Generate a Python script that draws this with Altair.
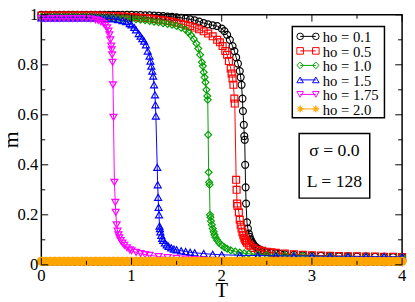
import altair as alt
import pandas as pd

# ---------------- data ----------------
H01 = [(0.0,1.0),(0.05,1.0),(0.1,1.0),(0.15,1.0),(0.2,1.0),(0.25,1.0),(0.3,1.0),(0.35,1.0),(0.4,1.0),(0.45,1.0),
       (0.5,1.0),(0.55,1.0),(0.6,1.0),(0.65,1.0),(0.7,1.0),(0.75,1.0),(0.8,1.0),(0.85,1.0),(0.9,1.0),(0.95,1.0),
       (1.0,1.0),(1.05,0.999),(1.1,0.999),(1.15,0.998),(1.2,0.998),(1.25,0.997),(1.3,0.996),(1.35,0.995),(1.4,0.993),
       (1.45,0.992),(1.5,0.99),(1.55,0.988),(1.6,0.985),(1.65,0.982),(1.7,0.978),(1.75,0.973),(1.8,0.967),(1.85,0.962),
       (1.9,0.958),(1.95,0.955),(2.0,0.945),(2.03,0.935),(2.06,0.92),(2.09,0.9),(2.12,0.875),(2.14,0.855),(2.16,0.83),
       (2.18,0.805),(2.2,0.775),(2.21,0.75),(2.22,0.72),(2.23,0.665),(2.235,0.615),(2.245,0.56),(2.25,0.515),(2.255,0.5),
       (2.26,0.4),(2.265,0.31),(2.27,0.245),(2.28,0.17),(2.29,0.145),(2.3,0.125),(2.31,0.112),(2.32,0.102),(2.33,0.094),
       (2.34,0.088),(2.35,0.082),(2.37,0.074),(2.39,0.068),(2.41,0.063),(2.44,0.058),(2.47,0.054),(2.5,0.051),(2.55,0.048),
       (2.6,0.046),(2.65,0.044),(2.7,0.042),(2.8,0.04),(2.9,0.038),(3.0,0.037),(3.1,0.036),(3.2,0.035),(3.3,0.034),
       (3.4,0.034),(3.5,0.033),(3.6,0.033),(3.7,0.032),(3.8,0.032),(3.9,0.031),(4.0,0.031)]

H05 = [(0.0,0.997),(0.05,0.997),(0.1,0.997),(0.15,0.997),(0.2,0.997),(0.25,0.997),(0.3,0.997),(0.35,0.997),(0.4,0.997),
       (0.45,0.997),(0.5,0.997),(0.55,0.997),(0.6,0.997),(0.65,0.996),(0.7,0.996),(0.75,0.995),(0.8,0.995),(0.85,0.994),
       (0.9,0.993),(0.95,0.992),(1.0,0.991),(1.05,0.99),(1.1,0.988),(1.15,0.987),(1.2,0.985),(1.25,0.983),(1.3,0.98),
       (1.35,0.978),(1.4,0.975),(1.45,0.972),(1.5,0.968),(1.55,0.964),(1.6,0.96),(1.65,0.955),(1.7,0.949),(1.75,0.942),
       (1.8,0.934),(1.85,0.925),(1.9,0.914),(1.95,0.9),(1.98,0.89),(2.01,0.875),(2.04,0.855),(2.06,0.84),(2.08,0.815),
       (2.1,0.785),(2.11,0.765),(2.12,0.745),(2.13,0.72),(2.14,0.665),(2.145,0.645),(2.16,0.34),(2.165,0.3),(2.17,0.245),
       (2.175,0.235),(2.19,0.21),(2.2,0.18),(2.21,0.16),(2.22,0.145),(2.23,0.13),(2.24,0.118),(2.25,0.108),(2.26,0.1),
       (2.27,0.094),(2.28,0.088),(2.3,0.08),(2.32,0.074),(2.35,0.067),(2.4,0.06),(2.45,0.056),(2.5,0.052),(2.55,0.05),
       (2.6,0.048),(2.7,0.045),(2.8,0.042),(2.9,0.04),(3.0,0.038),(3.1,0.037),(3.2,0.036),(3.3,0.035),(3.4,0.034),
       (3.5,0.034),(3.6,0.033),(3.7,0.033),(3.8,0.032),(3.9,0.032),(4.0,0.031)]

H10 = [(0.0,0.992),(0.05,0.992),(0.1,0.992),(0.15,0.992),(0.2,0.992),(0.25,0.992),(0.3,0.992),(0.35,0.992),(0.4,0.992),
       (0.45,0.992),(0.5,0.992),(0.55,0.991),(0.6,0.99),(0.65,0.99),(0.7,0.989),(0.75,0.988),(0.8,0.987),(0.85,0.986),
       (0.9,0.985),(0.95,0.985),(1.0,0.984),(1.05,0.982),(1.1,0.98),(1.15,0.978),(1.2,0.975),(1.25,0.972),(1.3,0.97),
       (1.35,0.966),(1.4,0.963),(1.45,0.96),(1.5,0.955),(1.55,0.948),(1.6,0.94),(1.63,0.93),(1.66,0.918),(1.69,0.903),
       (1.72,0.885),(1.74,0.865),(1.76,0.84),(1.78,0.81),(1.79,0.795),(1.8,0.77),(1.81,0.75),(1.82,0.73),(1.83,0.7),
       (1.84,0.675),(1.845,0.66),(1.85,0.52),(1.855,0.37),(1.86,0.33),(1.865,0.32),(1.87,0.2),(1.875,0.19),(1.88,0.175),
       (1.89,0.16),(1.9,0.145),(1.91,0.132),(1.92,0.12),(1.93,0.11),(1.95,0.098),(1.97,0.088),(2.0,0.078),(2.03,0.07),
       (2.06,0.064),(2.1,0.058),(2.15,0.053),(2.2,0.049),(2.25,0.046),(2.3,0.044),(2.4,0.041),(2.5,0.039),(2.6,0.038),
       (2.7,0.037),(2.8,0.036),(2.9,0.035),(3.0,0.035),(3.2,0.034),(3.4,0.033),(3.6,0.032),(3.8,0.031),(4.0,0.031)]

H15 = [(0.0,0.988),(0.05,0.988),(0.1,0.988),(0.15,0.988),(0.2,0.988),(0.25,0.988),(0.3,0.988),(0.35,0.988),(0.4,0.988),
       (0.45,0.988),(0.5,0.988),(0.55,0.988),(0.6,0.988),(0.65,0.987),(0.7,0.987),(0.75,0.986),(0.8,0.984),(0.85,0.981),
       (0.9,0.977),(0.94,0.973),(0.98,0.965),(1.0,0.96),(1.03,0.95),(1.05,0.94),(1.08,0.925),(1.1,0.915),(1.12,0.905),
       (1.14,0.895),(1.16,0.88),(1.18,0.855),(1.2,0.835),(1.21,0.815),(1.22,0.795),(1.23,0.775),(1.24,0.755),(1.25,0.72),
       (1.26,0.68),(1.265,0.64),(1.27,0.595),(1.285,0.39),(1.29,0.32),(1.295,0.27),(1.3,0.23),(1.305,0.2),(1.31,0.155),
       (1.315,0.145),(1.32,0.132),(1.33,0.118),(1.34,0.106),(1.35,0.098),(1.37,0.088),(1.39,0.08),(1.41,0.074),
       (1.44,0.068),(1.47,0.063),(1.5,0.06),(1.55,0.056),(1.6,0.053),(1.65,0.05),(1.7,0.048),(1.8,0.045),(1.9,0.042),
       (2.0,0.04),(2.2,0.038),(2.4,0.037),(2.6,0.036),(2.8,0.035),(3.0,0.035),(3.2,0.034),(3.4,0.034),(3.6,0.033),
       (3.8,0.033),(4.0,0.032)]

H175 = [(0.0,0.985),(0.05,0.985),(0.1,0.985),(0.15,0.985),(0.2,0.985),(0.25,0.985),(0.3,0.985),(0.35,0.985),(0.4,0.985),
        (0.45,0.985),(0.5,0.985),(0.55,0.983),(0.6,0.98),(0.63,0.977),(0.66,0.972),(0.69,0.965),(0.71,0.958),(0.73,0.948),
        (0.745,0.935),(0.755,0.92),(0.765,0.9),(0.775,0.875),(0.78,0.86),(0.785,0.84),(0.79,0.81),(0.795,0.72),(0.8,0.59),
        (0.81,0.33),(0.82,0.25),(0.825,0.21),(0.835,0.16),(0.845,0.135),(0.855,0.12),(0.865,0.108),(0.88,0.097),
        (0.9,0.087),(0.92,0.078),(0.95,0.068),(0.98,0.06),(1.0,0.056),(1.05,0.05),(1.1,0.045),(1.15,0.041),(1.2,0.038),
        (1.3,0.033),(1.4,0.029),(1.5,0.026),(1.6,0.023),(1.7,0.021),(1.8,0.019),(2.0,0.016),(2.2,0.014),(2.4,0.013),
        (2.6,0.012),(2.8,0.011),(3.0,0.01),(3.2,0.01),(3.4,0.009),(3.6,0.009),(3.8,0.008),(4.0,0.008)]

H20_T = [0.0,0.05,0.1,0.15,0.2,0.25,0.3,0.35,0.4,0.45,0.5,0.55,0.6,0.65,0.7,0.75,0.8,0.85,0.9,0.95,
         1.0,1.05,1.1,1.15,1.2,1.25,1.3,1.35,1.4,1.45,1.5,1.55,1.6,1.65,1.7,1.75,1.8,1.85,1.9,1.95,
         2.0,2.05,2.1,2.15,2.2,2.25,2.3,2.35,2.4,2.45,2.5,2.55,2.6,2.65,2.7,2.75,2.8,2.85,2.9,2.95,
         3.0,3.05,3.1,3.15,3.2,3.25,3.3,3.35,3.4,3.45,3.5,3.55,3.6,3.65,3.7,3.75,3.8,3.85,3.9,3.95,4.0]
H20_M = [0.014,0.014,0.014,0.014,0.014,0.014,0.014,0.014,0.014,0.014,0.014,0.014,0.014,0.014,0.014,0.014,0.014,0.014,0.014,0.014,
         0.014,0.014,0.014,0.014,0.014,0.014,0.014,0.014,0.014,0.014,0.014,0.014,0.014,0.014,0.014,0.014,0.014,0.014,0.014,0.014,
         0.014,0.014,0.014,0.014,0.014,0.014,0.014,0.014,0.014,0.014,0.014,0.014,0.014,0.014,0.014,0.014,0.014,0.014,0.014,0.014,
         0.014,0.014,0.014,0.014,0.014,0.014,0.014,0.014,0.014,0.014,0.014,0.014,0.014,0.014,0.014,0.014,0.014,0.014,0.014,0.014,0.014]

SERIES = [H01, H05, H10, H15, H175, list(zip(H20_T, H20_M))]
LABELS = ["ho = 0.1", "ho = 0.5", "ho = 1.0", "ho = 1.5", "ho = 1.75", "ho = 2.0"]
COLORS = ["#000000", "#ff0000", "#00a000", "#0000ff", "#ff00ff", "#ffa500"]
# asterisk drawn as one continuous stroked path
ASTERISK = "M-1,0L1,0L0,0L0,-1L0,1L0,0L-0.7,-0.7L0.7,0.7L0,0L-0.7,0.7L0.7,-0.7"
SHAPES = ["circle", "square", "diamond", "triangle-up", "triangle-down", ASTERISK]
SIZES = [50, 50, 50, 50, 50, 90]
STROKES = [1.2, 1.2, 1.2, 1.2, 1.2, 3.0]

X_MAJOR = [0, 1, 2, 3, 4]
X_MINOR = [0.5, 1.5, 2.5, 3.5]
Y_MAJOR = [0, 0.2, 0.4, 0.6, 0.8, 1]
Y_MINOR = [0.1, 0.3, 0.5, 0.7, 0.9]

X_TITLE, Y_TITLE = "T", "m"
INFO_LINES = ["σ = 0.0", "L = 128"]

# ---------------- layout ----------------
W, H = 368, 255
PAD_L, PAD_T = 34, 4
FONT = "Liberation Serif"
MAJ, MIN = 7, 4

xs = alt.Scale(domain=[0, 4], nice=False, zero=False)
ys = alt.Scale(domain=[0, 1], nice=False, zero=False)


def X(field):
    return alt.X(field, scale=xs, axis=None)


def Y(field):
    return alt.Y(field, scale=ys, axis=None)


layers = []
for pts, col, shp, sz, sw in zip(SERIES, COLORS, SHAPES, SIZES, STROKES):
    df = pd.DataFrame(pts, columns=["T", "m"])
    base = alt.Chart(df).encode(x=X("T:Q"), y=Y("m:Q"))
    layers.append(base.mark_line(color=col, strokeWidth=1))
    layers.append(base.mark_point(color=col, shape=shp, filled=False, size=sz, strokeWidth=sw, opacity=1))


# inward ticks on all four sides
def xticks(vals, length):
    b = alt.Chart(pd.DataFrame({"T": vals})).encode(x=X("T:Q"))
    return [b.mark_rule(color="black", strokeWidth=1).encode(y=alt.value(H), y2=alt.value(H - length)),
            b.mark_rule(color="black", strokeWidth=1).encode(y=alt.value(0), y2=alt.value(length))]


def yticks(vals, length):
    b = alt.Chart(pd.DataFrame({"m": vals})).encode(y=Y("m:Q"))
    return [b.mark_rule(color="black", strokeWidth=1).encode(x=alt.value(0), x2=alt.value(length)),
            b.mark_rule(color="black", strokeWidth=1).encode(x=alt.value(W), x2=alt.value(W - length))]


layers += xticks(X_MAJOR, MAJ) + xticks(X_MINOR, MIN) + yticks(Y_MAJOR, MAJ) + yticks(Y_MINOR, MIN)

# tick labels (through the scales) and axis titles
layers.append(alt.Chart(pd.DataFrame({"T": X_MAJOR})).mark_text(
    font=FONT, fontSize=17, baseline="top", align="center", color="black").encode(
    x=X("T:Q"), y=alt.value(H + 4), text=alt.Text("T:Q", format="~g")))
layers.append(alt.Chart(pd.DataFrame({"m": Y_MAJOR})).mark_text(
    font=FONT, fontSize=17, baseline="middle", align="right", color="black").encode(
    y=Y("m:Q"), x=alt.value(-3), text=alt.Text("m:Q", format="~g")))

one = pd.DataFrame({"a": [0]})
layers.append(alt.Chart(one).mark_text(text=X_TITLE, font=FONT, fontSize=21, baseline="alphabetic",
                                       align="center", color="black").encode(
    x=alt.value(W / 2), y=alt.value(H + 33)))
layers.append(alt.Chart(one).mark_text(text=Y_TITLE, font=FONT, fontSize=22, baseline="alphabetic",
                                       align="center", angle=270, color="black").encode(
    x=alt.value(-(PAD_L - 10)), y=alt.value(H / 2)))

# legend box (plot-area pixel offsets)
LX0, LX1, LY0, LY1 = 256, 350, 12, 105
layers.append(alt.Chart(one).mark_rect(fill="white", stroke="black", strokeWidth=1.5).encode(
    x=alt.value(LX0), x2=alt.value(LX1), y=alt.value(LY0), y2=alt.value(LY1)))
ROW0, ROWH = 22, 14.8
SX0, SX1, TX = 264, 280, 287
for i, (lab, col, shp) in enumerate(zip(LABELS, COLORS, SHAPES)):
    yy = ROW0 + i * ROWH
    c = alt.Chart(one)
    layers.append(c.mark_rule(color=col, strokeWidth=1).encode(x=alt.value(SX0), x2=alt.value(SX1), y=alt.value(yy)))
    for sx in (SX0, SX1):
        layers.append(c.mark_point(color=col, shape=shp, filled=False, size=45, strokeWidth=1, opacity=1).encode(
            x=alt.value(sx), y=alt.value(yy)))
    layers.append(c.mark_text(text=lab, font=FONT, fontSize=15, align="left", baseline="middle", color="black").encode(
        x=alt.value(TX), y=alt.value(yy + 1)))

# info box
layers.append(alt.Chart(one).mark_rect(fill="white", stroke="black", strokeWidth=1.5).encode(
    x=alt.value(263), x2=alt.value(335), y=alt.value(121), y2=alt.value(187)))
for j, txt in enumerate(INFO_LINES):
    layers.append(alt.Chart(one).mark_text(text=txt, font=FONT, fontSize=18, align="center", baseline="middle",
                                           color="black").encode(x=alt.value(299), y=alt.value(139 + j * 32)))

chart = alt.layer(*layers).properties(
    width=W, height=H,
    autosize=alt.AutoSizeParams(type="none"),
    padding={"left": PAD_L, "top": PAD_T, "right": 5, "bottom": 35},
).configure(font=FONT).configure_view(stroke="black", strokeWidth=1.5)

chart.save("out.html", embed_options={"renderer": "svg", "actions": False})
